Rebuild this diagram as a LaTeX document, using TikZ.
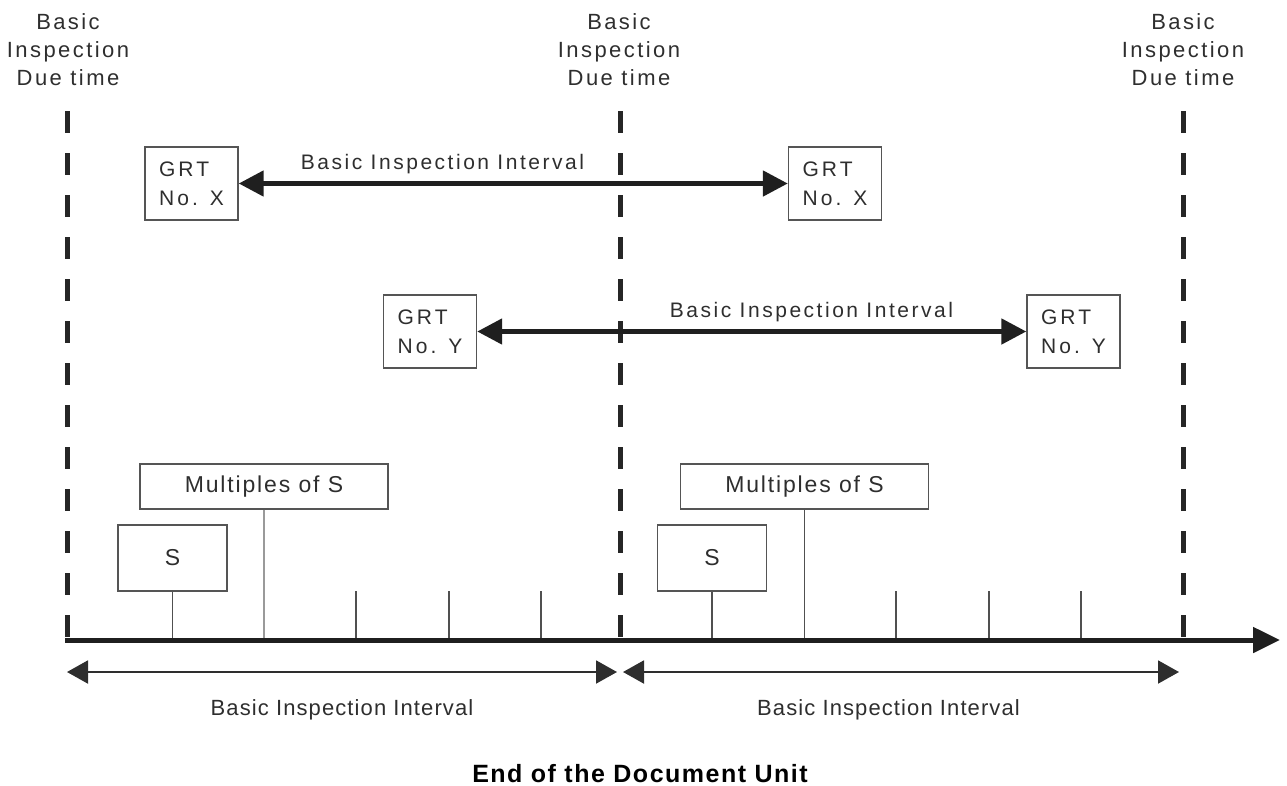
\documentclass[tikz,border=0pt]{standalone}
\usepackage{fontspec}
\setmainfont{Liberation Sans}
\usetikzlibrary{arrows.meta}
\definecolor{ink}{HTML}{2E2E2E}
\definecolor{boxc}{HTML}{555555}
\definecolor{tickc}{HTML}{505050}
\definecolor{ltick}{HTML}{9A9A9A}
\newcommand{\fsz}[3]{\fontsize{#1}{#2}\selectfont\addfontfeatures{LetterSpace=#3}}
\begin{document}
\begin{tikzpicture}[x=1pt,y=-1pt,
  head/.style={text=ink, inner sep=0pt, align=center, font=\fsz{22}{28}{11}},
  grt/.style={draw=boxc, line width=1.4pt, minimum width=93pt, minimum height=73pt,
    inner sep=0pt, align=left, text=ink, font=\fsz{21}{29}{15}},
  ivl/.style={text=ink, inner sep=0pt, anchor=base, font=\fsz{21}{26}{12}},
  ivlb/.style={text=ink, inner sep=0pt, anchor=base, font=\fsz{22}{26}{5}},
  mbox/.style={draw=boxc, line width=1.4pt, minimum width=248pt, minimum height=45pt,
    inner sep=0pt, text=ink, font=\fsz{23}{26}{8}},
  sbox/.style={draw=boxc, line width=1.4pt, minimum width=109pt, minimum height=66pt,
    inner sep=0pt, text=ink, font=\fsz{23}{26}{0}},
  dueline/.style={line width=5pt, draw=black!85, dash pattern=on 22pt off 20pt},
  bigarrow/.style={line width=5pt, draw=black!88, {Triangle[length=25pt,width=25pt]}-{Triangle[length=25pt,width=25pt]}},
  axisline/.style={line width=5pt, draw=black!88, -{Triangle[length=27pt,width=25pt]}},
  dimarrow/.style={line width=2pt, draw=ink, {Triangle[length=21pt,width=23pt]}-{Triangle[length=21pt,width=23pt]}},
  tick/.style={line width=1.3pt, draw=tickc},
  ltickst/.style={line width=1.8pt, draw=ltick},
]
\useasboundingbox (0,0) rectangle (1287,785);

% due-time lines
\coordinate (d1t) at (67,111);  \coordinate (d1b) at (67,638);
\coordinate (d2t) at (620,111); \coordinate (d2b) at (620,638);
\coordinate (d3t) at (1183,111);\coordinate (d3b) at (1183,638);
\draw[dueline] (d1t) -- (d1b);
\draw[dueline] (d2t) -- (d2b);
\draw[dueline] (d3t) -- (d3b);

% headings
\node[head] (h1) at (68,50) {Basic\\Inspection\\Due time};
\node[head] (h2) at (619,50) {Basic\\Inspection\\Due time};
\node[head] (h3) at (1183,50) {Basic\\Inspection\\Due time};

% GRT boxes
\node[grt] (x1) at (191.5,183.5) {GRT\\No. X};
\node[grt] (x2) at (835,183.5) {GRT\\No. X};
\node[grt] (y1) at (430,331.5) {GRT\\No. Y};
\node[grt] (y2) at (1073.5,331.5) {GRT\\No. Y};
\draw[bigarrow] (x1.east) -- (x2.west);
\draw[bigarrow] (y1.east) -- (y2.west);
\node[ivl] (lx) at (442.5,169) {Basic Inspection Interval};
\node[ivl] (ly) at (811.5,317.5) {Basic Inspection Interval};

% time axis
\coordinate (ax0) at (65,640);
\coordinate (ax1) at (1280,640);

% S and multiples boxes
\node[mbox] (m1) at (264,486.5) {Multiples of S};
\node[mbox] (m2) at (804.5,486.5) {Multiples of S};
\node[sbox] (s1) at (172.5,558) {S};
\node[sbox] (s2) at (712,558) {S};

\draw[tick] (s1.south) -- (s1.south |- ax0);
\draw[tick] (s2.south) -- (s2.south |- ax0);
\draw[ltickst] (m1.south) -- (m1.south |- ax0);
\draw[tick] (m2.south) -- (m2.south |- ax0);
\foreach \xx/\nm in {356/a,449/b,541/c,896/d,989/e,1081/f}{
  \coordinate (t\nm) at (\xx,591);
  \draw[tick] (t\nm) -- (t\nm |- ax0);
}
\draw[axisline] (ax0) -- (ax1);

% bottom interval arrows
\coordinate (b1l) at (67,672);  \coordinate (b1r) at (617,672);
\coordinate (b2l) at (623,672); \coordinate (b2r) at (1179,672);
\draw[dimarrow] (b1l) -- (b1r);
\draw[dimarrow] (b2l) -- (b2r);
\node[ivlb] (lb1) at (342,715) {Basic Inspection Interval};
\node[ivlb] (lb2) at (888.5,715) {Basic Inspection Interval};

% footer
\node[inner sep=0pt, anchor=base, text=black, font=\bfseries\fsz{25}{30}{6}] (end) at (640,782) {End of the Document Unit};
\end{tikzpicture}
\end{document}
